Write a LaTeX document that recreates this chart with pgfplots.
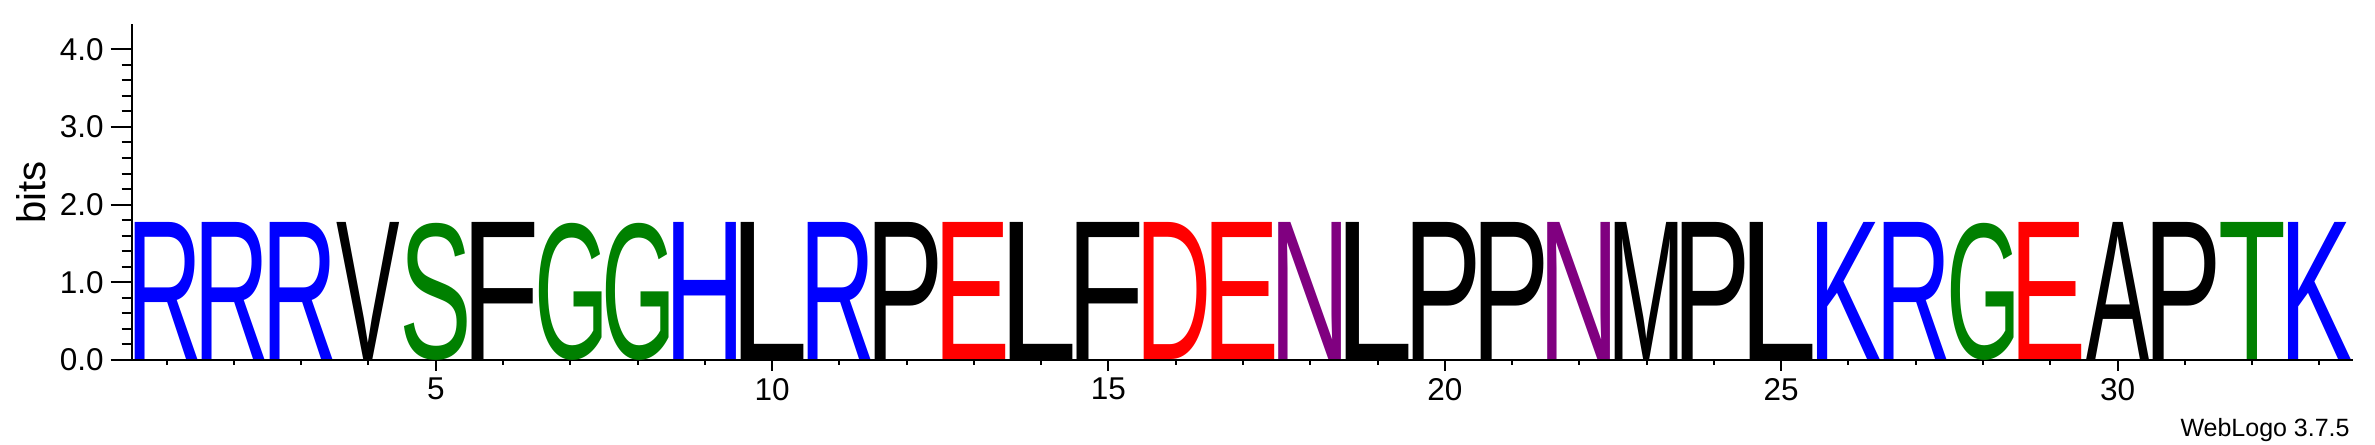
\documentclass[border=0pt]{standalone}
\usepackage{pgfplots}
\pgfplotsset{compat=1.18}
\usepackage{fontspec}
\setmainfont{Liberation Sans}
\newfontfamily\logofont{Liberation Sans}
\usepackage{graphicx}
\usepackage{xcolor}
\definecolor{wlblue}{RGB}{0,0,255}
\definecolor{wlgreen}{RGB}{0,128,0}
\definecolor{wlred}{RGB}{255,0,0}
\definecolor{wlpurple}{RGB}{128,0,128}
\definecolor{wlblack}{RGB}{0,0,0}

% letter box: ink width 0.932 column, height = 1.765 bits
\newlength\letterW \setlength\letterW{31.35pt}
\newlength\letterH \setlength\letterH{68.55pt}
\newsavebox\glyphbox
\newcommand\logochar[1]{%
  \sbox\glyphbox{\logofont\fontsize{100}{100}\selectfont
    \kern-\XeTeXglyphbounds1 \XeTeXcharglyph`#1\relax
    #1%
    \kern-\XeTeXglyphbounds3 \XeTeXcharglyph`#1\relax}%
  \resizebox*{\letterW}{\letterH}{\usebox\glyphbox}}

\pgfplotsset{
  logo/.style 2 args={draw=none, mark=none,
    nodes near coords={\textcolor{#2}{\logochar{#1}}},
    every node near coord/.append style={anchor=north, inner sep=0pt, outer sep=0pt}},
  common/.style={
    at={(65.85pt,42pt)}, anchor=south west,
    x=33.635pt, y=38.84pt,
    xmin=0.48, xmax=33.5, ymin=0, ymax=4.32,
    tick align=outside,
    tick style={line width=1pt, black},
    axis line style={-, line width=1pt, black},
    /pgf/number format/assume math mode=true,
    tick label style={font=\fontsize{15.75}{16}\selectfont},
    clip=false,
  }
}

\begin{document}
\begin{tikzpicture}
\path[use as bounding box] (0,0) rectangle (1187.5pt,222pt);
% y axis
\begin{axis}[common,
  axis y line*=left, axis x line=none,
  ytick={0,1,2,3,4}, minor y tick num=4,
  major tick length=10.5pt, minor tick length=5pt,
  yticklabel style={/pgf/number format/fixed, /pgf/number format/fixed zerofill, /pgf/number format/precision=1},
  ylabel={bits}, ylabel style={font=\fontsize{20}{20}\selectfont},
]
\addplot[draw=none, mark=none] coordinates {(1,0)};
\end{axis}
% x axis and letters
\begin{axis}[common,
  axis x line*=bottom, axis y line=none,
  xtick={5,10,15,20,25,30}, minor xtick={1,2,...,33},
  major tick length=5.5pt, minor tick length=2.5pt,
]
\addplot[logo={R}{wlblue}]   coordinates {(1,1.765) (2,1.765) (3,1.765) (11,1.765) (27,1.765)};
\addplot[logo={K}{wlblue}]   coordinates {(26,1.765) (33,1.765)};
\addplot[logo={H}{wlblue}]   coordinates {(9,1.765)};
\addplot[logo={V}{wlblack}]  coordinates {(4,1.765)};
\addplot[logo={F}{wlblack}]  coordinates {(6,1.765) (15,1.765)};
\addplot[logo={L}{wlblack}]  coordinates {(10,1.765) (14,1.765) (19,1.765) (25,1.765)};
\addplot[logo={P}{wlblack}]  coordinates {(12,1.765) (20,1.765) (21,1.765) (24,1.765) (31,1.765)};
\addplot[logo={M}{wlblack}]  coordinates {(23,1.765)};
\addplot[logo={A}{wlblack}]  coordinates {(30,1.765)};
\addplot[logo={S}{wlgreen}]  coordinates {(5,1.765)};
\addplot[logo={G}{wlgreen}]  coordinates {(7,1.765) (8,1.765) (28,1.765)};
\addplot[logo={T}{wlgreen}]  coordinates {(32,1.765)};
\addplot[logo={E}{wlred}]    coordinates {(13,1.765) (17,1.765) (29,1.765)};
\addplot[logo={D}{wlred}]    coordinates {(16,1.765)};
\addplot[logo={N}{wlpurple}] coordinates {(18,1.765) (22,1.765)};
\end{axis}
\node[anchor=base east, inner sep=0pt, font=\fontsize{12.5}{12.5}\selectfont] at (1175pt,4pt) {WebLogo 3.7.5};
\end{tikzpicture}
\end{document}
